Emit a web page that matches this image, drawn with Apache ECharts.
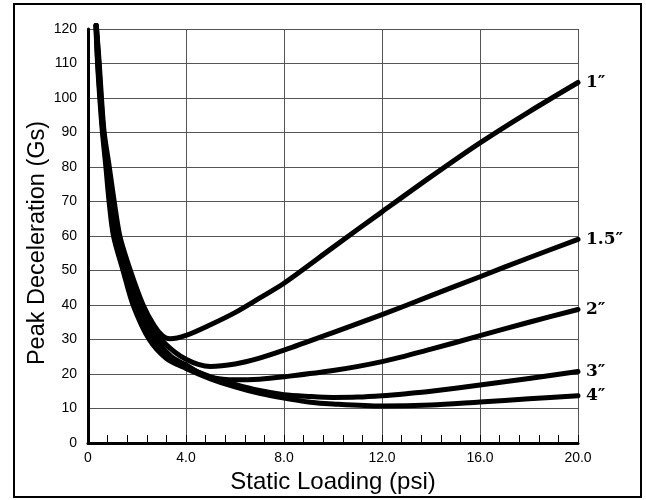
<!DOCTYPE html>
<html>
<head>
<meta charset="utf-8">
<script src="https://cdn.jsdelivr.net/npm/echarts@6/dist/echarts.min.js"></script>
<style>
html,body{margin:0;padding:0;background:#fff;}
#chart{width:646px;height:500px;}
</style>
</head>
<body>
<div id="chart"></div>
<script>
// Static loading (psi) vs peak deceleration (Gs), per cushion thickness
var curve1 = [[0.34,121],[0.46,110],[0.55,100],[0.66,90],[0.87,80],[1.07,70],[1.3,60],[1.73,50],[2.25,40],[2.7,34],[3.05,31],[3.35,30.2],[4,31.2],[5,34.3],[6,37.8],[7,42],[8,46.3],[10,56.7],[12,67],[14,77.2],[16,87],[18,96],[20,104.5]];
var curve15 = [[0.34,121],[0.44,110],[0.53,100],[0.64,90],[0.83,80],[1.02,70],[1.24,60],[1.65,50],[2.12,40],[3.0,30],[3.55,26.3],[4,24.3],[4.5,22.8],[5,22.2],[6,22.9],[7,24.6],[8,26.9],[10,32],[12,37.2],[14,42.7],[16,48.2],[18,53.7],[20,59]];
var curve2 = [[0.33,121],[0.42,110],[0.51,100],[0.62,90],[0.8,80],[0.97,70],[1.17,60],[1.56,50],[2.0,40],[2.8,30],[3.4,25],[4,22.6],[4.5,20.5],[5,19.1],[5.5,18.5],[6,18.3],[7,18.5],[8,19.2],[10,21],[12,23.6],[14,27.2],[16,31.1],[18,35],[20,38.7]];
var curve3 = [[0.33,121],[0.4,110],[0.5,100],[0.61,90],[0.76,80],[0.91,70],[1.1,60],[1.5,50],[1.92,40],[2.65,30],[3.3,24.8],[4,22.1],[5,19.2],[6,17],[7,15.2],[8,14],[9,13.5],[10,13.2],[11,13.3],[12,13.7],[13,14.3],[14,15],[16,16.8],[18,18.7],[20,20.7]];
var curve4 = [[0.32,121],[0.39,110],[0.48,100],[0.59,90],[0.73,80],[0.86,70],[1.04,60],[1.43,50],[1.84,40],[2.5,30],[3.2,24.5],[4,21.6],[5,18.6],[6,16.3],[7,14.4],[8,13],[9,11.9],[10,11.3],[12,10.7],[14,11],[16,11.9],[18,12.8],[20,13.7]];
var curveNames = ['1\u2033','1.5\u2033','2\u2033','3\u2033','4\u2033'];
var xTickLabels = ['0','4.0','8.0','12.0','16.0','20.0'];
var yTickLabels = ['0','10','20','30','40','50','60','70','80','90','100','110','120'];

var curves = [curve1, curve15, curve2, curve3, curve4];
var chart = echarts.init(document.getElementById('chart'), null, {renderer:'canvas'});
var sansFont = "'Liberation Sans', Arial, Helvetica, sans-serif";
var series = curves.map(function(d, i){
  return {
    type:'line', name: curveNames[i], data: d, showSymbol:false, symbol:'none',
    smooth:0.3, clip:false, z: 3,
    lineStyle:{color:'#000', width:5, cap:'round', join:'round'},
    endLabel:{show:true, formatter: curveNames[i], distance:8, color:'#000',
      fontFamily:"'DejaVu Serif', 'Liberation Serif', serif", fontWeight:'bold', fontSize:17},
    emphasis:{disabled:true}, animation:false
  };
});
chart.setOption({
  animation:false,
  backgroundColor:'#fff',
  grid:{left:88, right:68, top:29, bottom:57, containLabel:false},
  xAxis:{
    type:'value', min:0, max:20, interval:4,
    name:'Static Loading (psi)', nameLocation:'middle', nameGap:27, nameMoveOverlap:false,
    nameTextStyle:{fontFamily:sansFont, fontSize:24, color:'#000'},
    axisLine:{show:true, onZero:false, lineStyle:{color:'#000', width:3}},
    axisTick:{show:true, inside:true, length:8, lineStyle:{color:'#000', width:1}},
    minorTick:{show:true, splitNumber:5, length:8, lineStyle:{color:'#000', width:1}},
    axisLabel:{fontFamily:sansFont, fontSize:14, color:'#000', margin:8,
      formatter:function(v){ return xTickLabels[Math.round(v/4)]; }},
    splitLine:{show:true, lineStyle:{color:'#555', width:1}}
  },
  yAxis:{
    type:'value', min:0, max:120, interval:10,
    name:'Peak Deceleration (Gs)', nameLocation:'middle', nameGap:38, nameMoveOverlap:false,
    nameTextStyle:{fontFamily:sansFont, fontSize:23.5, color:'#000', padding:[0,14,0,0]},
    axisLine:{show:true, onZero:false, lineStyle:{color:'#000', width:3}},
    axisTick:{show:false},
    axisLabel:{fontFamily:sansFont, fontSize:14, color:'#000', margin:11,
      formatter:function(v){ return yTickLabels[Math.round(v/10)]; }},
    splitLine:{show:true, lineStyle:{color:'#555', width:1}}
  },
  graphic:[{type:'rect', shape:{x:14, y:4, width:627, height:493},
    style:{fill:null, stroke:'#000', lineWidth:2}, z:-1, silent:true}],
  series: series
});
</script>
</body>
</html>
